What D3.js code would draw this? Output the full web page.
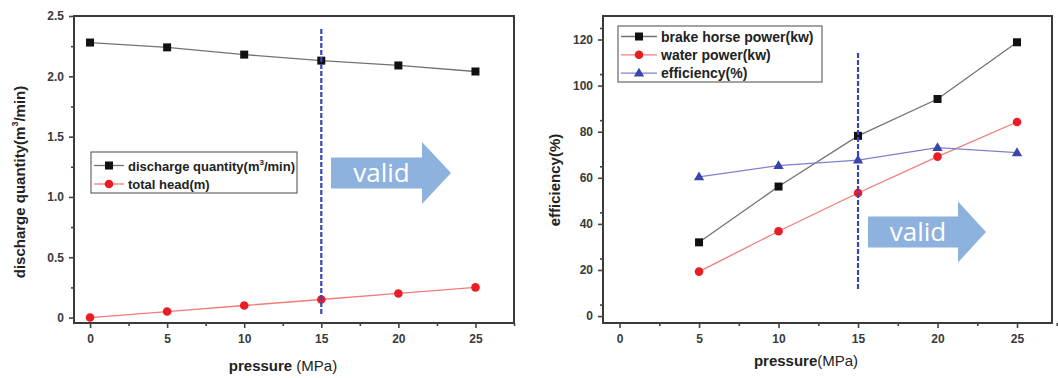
<!DOCTYPE html>
<html>
<head>
<meta charset="utf-8">
<script src="https://cdn.jsdelivr.net/npm/d3@7"></script>
<style>
  html, body { margin: 0; padding: 0; background: #fff; }
  svg text { font-family: Arial, "Liberation Sans", sans-serif; }
</style>
</head>
<body>
<div id="chart"></div>
<script>
// data
var pressure = [0, 5, 10, 15, 20, 25];
var discharge = [2.28, 2.24, 2.18, 2.13, 2.09, 2.04];
var totalHead = [0, 0.05, 0.10, 0.15, 0.20, 0.25];

var pressure2 = [5, 10, 15, 20, 25];
var brakePower = [32.0, 56.2, 78.2, 94.2, 118.8];
var waterPower = [19.3, 36.8, 53.4, 69.2, 84.2];
var efficiency = [60.4, 65.3, 67.7, 73.1, 70.9];

var xTicks = [0, 5, 10, 15, 20, 25];
var yTicksLeft = [0, 0.5, 1.0, 1.5, 2.0, 2.5];
var yTicksRight = [0, 20, 40, 60, 80, 100, 120];
var validAt = 15;

var W = 1058, H = 378;
var svg = d3.select("#chart").append("svg").attr("width", W).attr("height", H);

var frameColor = "#3a3a3a";
var tickColor = "#444";
var lineDash = "#3945b8";
var arrowColor = "#8eb2de";

var sBlack = { line: "#737373", mark: "#111", shape: "square" };
var sRed = { line: "#f27b7b", mark: "#ec1c24", shape: "circle" };
var sBlue = { line: "#7f7fd0", mark: "#3a45a8", shape: "triangle" };

function drawMarker(g, shape, color, x, y) {
    if (shape === "square") {
        g.append("rect").attr("x", x - 4).attr("y", y - 4).attr("width", 8).attr("height", 8).attr("fill", color);
    } else if (shape === "circle") {
        g.append("circle").attr("cx", x).attr("cy", y).attr("r", 4.3).attr("fill", color);
    } else {
        g.append("path").attr("d", d3.symbol().type(d3.symbolTriangle).size(46)())
            .attr("transform", "translate(" + x + "," + (y + 0.5) + ")").attr("fill", color);
    }
}

function panel(opt) {
    var g = svg.append("g");
    var x = d3.scaleLinear().domain(opt.xDomain).range([opt.left, opt.right]);
    var y = d3.scaleLinear().domain(opt.yDomain).range([opt.bottom, opt.top]);

    // frame
    g.append("rect").attr("x", opt.left).attr("y", opt.top)
        .attr("width", opt.right - opt.left).attr("height", opt.bottom - opt.top)
        .attr("fill", "none").attr("stroke", frameColor).attr("stroke-width", 2);

    // x axis
    var xAx = g.append("g").attr("transform", "translate(0," + opt.bottom + ")")
        .call(d3.axisBottom(x).tickValues(xTicks).tickSize(5).tickPadding(6).tickFormat(d3.format("d")));
    var xMin = g.append("g").attr("transform", "translate(0," + opt.bottom + ")")
        .call(d3.axisBottom(x).tickValues(xTicks.map(function (d) { return d + 2.5; })).tickSize(3).tickFormat(""));
    // y axis
    var yAx = g.append("g").attr("transform", "translate(" + opt.left + ",0)")
        .call(d3.axisLeft(y).tickValues(opt.yTicks).tickSize(5).tickPadding(5).tickFormat(opt.yFormat));
    var yMin = g.append("g").attr("transform", "translate(" + opt.left + ",0)")
        .call(d3.axisLeft(y).tickValues(opt.yTicks.map(function (d) { return d + opt.yStep / 2; })).tickSize(3).tickFormat(""));
    [xAx, xMin, yAx, yMin].forEach(function (a) {
        a.select(".domain").remove();
        a.selectAll("line").attr("stroke", tickColor).attr("stroke-width", 1.6);
        a.selectAll("text").attr("fill", "#3a3a3a").style("font-size", "12px").style("font-weight", "bold");
    });

    // valid arrow
    var a = opt.arrow;
    var ag = g.append("g");
    ag.append("path").attr("fill", arrowColor)
        .attr("d", "M" + a.x0 + "," + (a.yc - a.bh) + "L" + a.x1 + "," + (a.yc - a.bh) +
            "L" + a.x1 + "," + (a.yc - a.hh) + "L" + a.x2 + "," + a.yc +
            "L" + a.x1 + "," + (a.yc + a.hh) + "L" + a.x1 + "," + (a.yc + a.bh) +
            "L" + a.x0 + "," + (a.yc + a.bh) + "Z");
    ag.append("text").attr("x", (a.x0 + a.x1) / 2 + 5).attr("y", a.yc + 9)
        .attr("text-anchor", "middle").attr("fill", "#fff")
        .style("font-family", "'Open Sans', 'DejaVu Sans', sans-serif").style("font-size", "26px")
        .text("valid");

    // series
    opt.series.forEach(function (s) {
        var pts = s.xs.map(function (d, i) { return [x(d), y(s.ys[i])]; });
        g.append("path").attr("d", d3.line()(pts)).attr("fill", "none")
            .attr("stroke", s.style.line).attr("stroke-width", 1.3);
        pts.forEach(function (p) { drawMarker(g, s.style.shape, s.style.mark, p[0], p[1]); });
    });

    // dashed line
    g.append("line").attr("x1", x(validAt)).attr("x2", x(validAt))
        .attr("y1", opt.dash[0]).attr("y2", opt.dash[1])
        .attr("stroke", lineDash).attr("stroke-width", 2.2).attr("stroke-dasharray", "5,2");

    // legend
    var L = opt.legend;
    g.append("rect").attr("x", L.x).attr("y", L.y).attr("width", L.w).attr("height", L.h)
        .attr("fill", "#fff").attr("stroke", "#666").attr("stroke-width", 1.2);
    opt.series.forEach(function (s, i) {
        var ly = L.y + L.first + i * L.step;
        g.append("line").attr("x1", L.x + 3).attr("x2", L.x + 3 + L.lineW).attr("y1", ly).attr("y2", ly)
            .attr("stroke", s.style.line).attr("stroke-width", 1.3);
        drawMarker(g, s.style.shape, s.style.mark, L.x + 3 + L.lineW / 2, ly);
        var t = g.append("text").attr("x", L.x + L.lineW + 7).attr("y", ly + 5)
            .attr("fill", "#222").style("font-size", L.fs + "px").style("font-weight", "bold");
        if (s.sup) {
            t.append("tspan").text(s.label[0]);
            t.append("tspan").attr("dy", -6).style("font-size", "8px").text(s.sup);
            t.append("tspan").attr("dy", 6).text(s.label[1]);
        } else {
            t.text(s.label);
        }
    });

    // axis titles
    var xt = g.append("text").attr("x", opt.xTitle[0]).attr("y", opt.xTitle[1]).attr("text-anchor", "middle")
        .attr("fill", "#222").style("font-size", "15px");
    xt.append("tspan").style("font-weight", "bold").text("pressure");
    xt.append("tspan").text(opt.xTitleGap + "(MPa)");

    var yt = g.append("text").attr("transform", "translate(" + opt.yTitle[0] + "," + opt.yTitle[1] + ") rotate(-90)")
        .attr("text-anchor", "middle").attr("fill", "#222").style("font-size", "15px").style("font-weight", "bold");
    if (opt.yTitleSup) {
        yt.append("tspan").text(opt.yTitleText[0]);
        yt.append("tspan").attr("dy", -7).style("font-size", "9px").text(opt.yTitleSup);
        yt.append("tspan").attr("dy", 7).text(opt.yTitleText[1]);
    } else {
        yt.text(opt.yTitleText);
    }
}

panel({
    left: 74, right: 514, top: 16, bottom: 323,
    xDomain: [-1.04, 27.5], yDomain: [-0.045, 2.5],
    yTicks: yTicksLeft, yStep: 0.5,
    yFormat: function (d) { return d === 0 ? "0" : d3.format(".1f")(d); },
    series: [
        { xs: pressure, ys: discharge, style: sBlack, label: ["discharge quantity(m", "/min)"], sup: "3" },
        { xs: pressure, ys: totalHead, style: sRed, label: "total head(m)" }
    ],
    dash: [29, 314],
    arrow: { x0: 331, x1: 422, x2: 451, yc: 173, bh: 15.5, hh: 31 },
    legend: { x: 91, y: 152, w: 206, h: 41, first: 13.5, step: 18.5, lineW: 30, fs: 13 },
    xTitle: [283, 371], xTitleGap: " ",
    yTitle: [25, 182], yTitleText: ["discharge quantity(m", "/min)"], yTitleSup: "3"
});

panel({
    left: 603, right: 1052, top: 16, bottom: 323,
    xDomain: [-1.04, 27.2], yDomain: [-3, 130.2],
    yTicks: yTicksRight, yStep: 10,
    yFormat: d3.format("d"),
    series: [
        { xs: pressure2, ys: brakePower, style: sBlack, label: "brake horse power(kw)" },
        { xs: pressure2, ys: waterPower, style: sRed, label: "water power(kw)" },
        { xs: pressure2, ys: efficiency, style: sBlue, label: "efficiency(%)" }
    ],
    dash: [53, 289],
    arrow: { x0: 868, x1: 958, x2: 986, yc: 232, bh: 15.5, hh: 30.5 },
    legend: { x: 618, y: 26, w: 204, h: 56, first: 10.5, step: 18.3, lineW: 36, fs: 14 },
    xTitle: [806, 366], xTitleGap: "",
    yTitle: [560, 180], yTitleText: "efficiency(%)"
});
</script>
</body>
</html>
